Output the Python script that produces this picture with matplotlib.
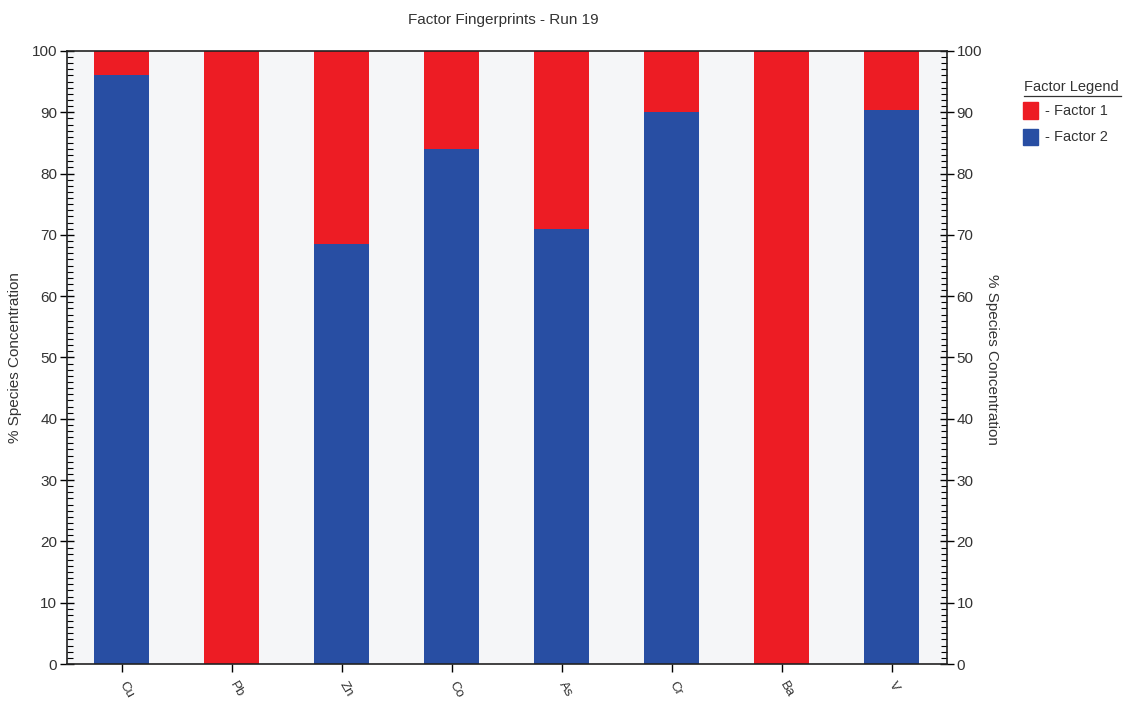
import numpy as np
import matplotlib.pyplot as plt
from matplotlib.ticker import MultipleLocator
from matplotlib.patches import Rectangle

species = ['Cu', 'Pb', 'Zn', 'Co', 'As', 'Cr', 'Ba', 'V']
factor2 = [96.0, 0.0, 68.5, 84.0, 71.0, 90.0, 0.0, 90.3]
factor1 = [100 - v for v in factor2]

RED = '#ed1c24'
BLUE = '#284ea3'
TXT = '#333333'

def main():
    plt.rcParams['font.family'] = ['Liberation Sans', 'DejaVu Sans']
    fig = plt.figure(figsize=(11.24, 7.04), dpi=100)
    ax = fig.add_axes([0.0596, 0.0568, 0.7829, 0.8708])
    ax.set_facecolor('#f5f6f8')

    x = np.arange(len(species))
    ax.bar(x, factor2, width=0.5, color=BLUE, edgecolor='none', zorder=2)
    ax.bar(x, factor1, width=0.5, bottom=factor2, color=RED, edgecolor='none', zorder=2)

    ax.set_xlim(-0.5, len(species) - 0.5)
    ax.set_ylim(0, 100)
    ax.set_xticks(x)
    ax.set_xticklabels(species, rotation=-60, rotation_mode='anchor', ha='left',
                       va='center', color=TXT, fontsize=9.5)
    ax.tick_params(axis='x', direction='out', length=6, width=1, pad=7)

    ax.yaxis.set_major_locator(MultipleLocator(10))
    ax.yaxis.set_minor_locator(MultipleLocator(1))
    ax.tick_params(axis='y', which='major', direction='inout', length=10, width=1,
                   labelsize=11, labelcolor=TXT, left=True, right=True,
                   labelleft=True, labelright=True, pad=2)
    ax.tick_params(axis='y', which='minor', direction='in', length=4, width=0.8,
                   left=True, right=True)

    for s in ax.spines.values():
        s.set_color('#222222')
        s.set_linewidth(1.2)

    ax.set_ylabel('% Species Concentration', color=TXT, fontsize=11, labelpad=7)
    fig.text(0.883, 0.49, '% Species Concentration', rotation=270, color=TXT,
             fontsize=11, ha='center', va='center')

    fig.text(0.448, 0.972, 'Factor Fingerprints - Run 19', color=TXT,
             fontsize=11, ha='center', va='center')

    # legend block
    fig.text(0.911, 0.877, 'Factor Legend', color=TXT, fontsize=10.5,
             ha='left', va='center')
    fig.add_artist(plt.Line2D([0.911, 0.997], [0.864, 0.864], color=TXT, lw=0.9))
    for i, (lab, col) in enumerate([('- Factor 1', RED), ('- Factor 2', BLUE)]):
        yc = 0.843 - i * 0.038
        fig.add_artist(Rectangle((0.910, yc - 0.0115), 0.0135, 0.023,
                                 transform=fig.transFigure, color=col))
        fig.text(0.930, yc, lab, color=TXT, fontsize=10.5, ha='left', va='center')

    fig.savefig('out.png', dpi=100)

if __name__ == "__main__":
    main()
